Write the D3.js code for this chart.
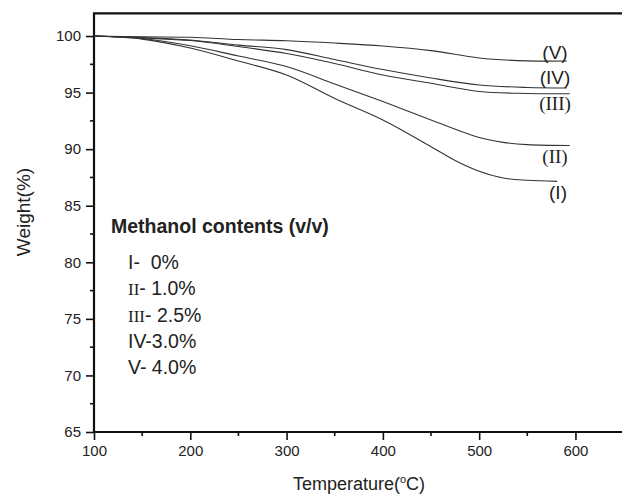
<!DOCTYPE html>
<html>
<head>
<meta charset="utf-8">
<script src="https://cdn.jsdelivr.net/npm/d3@7"></script>
<style>
  body { margin: 0; background: #fff; }
  text { font-family: "Liberation Sans", Arial, sans-serif; fill: #222; white-space: pre; }
</style>
</head>
<body>
<div id="chart"></div>
<script>
// temperatures (°C) and weight (%)
var tempI = [100, 150, 200, 250, 300, 350, 400, 450, 475, 500, 525, 550, 581];
var weightI = [100, 99.73, 98.94, 97.79, 96.55, 94.48, 92.58, 90.22, 89.0, 88.05, 87.45, 87.25, 87.15];

var tempII = [100, 150, 200, 250, 300, 350, 400, 450, 500, 525, 550, 594];
var weightII = [100, 99.78, 99.14, 98.23, 97.31, 95.76, 94.21, 92.58, 91.03, 90.6, 90.4, 90.33];

var tempIII = [100, 150, 200, 250, 300, 350, 400, 450, 500, 550, 594];
var weightIII = [100, 99.82, 99.6, 99.07, 98.45, 97.57, 96.55, 95.82, 95.1, 94.92, 94.9];

var tempIV = [100, 150, 200, 250, 300, 350, 400, 450, 500, 550, 591];
var weightIV = [100, 99.87, 99.65, 99.2, 98.8, 97.92, 97.04, 96.29, 95.67, 95.45, 95.41];

var tempV = [100, 150, 200, 250, 300, 350, 400, 450, 500, 550, 591];
var weightV = [100, 99.93, 99.89, 99.69, 99.58, 99.38, 99.12, 98.71, 98.06, 97.8, 97.79];

var curveNames = ["(I)", "(II)", "(III)", "(IV)", "(V)"];
var legendItems = [
    { num: "I", text: "-  0%" },
    { num: "II", text: "- 1.0%" },
    { num: "III", text: "- 2.5%" },
    { num: "IV", text: "-3.0%" },
    { num: "V", text: "- 4.0%" }
];
var xTicks = [100, 200, 300, 400, 500, 600];
var yTicks = [65, 70, 75, 80, 85, 90, 95, 100];

var series = [
    { name: curveNames[0], t: tempI, w: weightI },
    { name: curveNames[1], t: tempII, w: weightII },
    { name: curveNames[2], t: tempIII, w: weightIII },
    { name: curveNames[3], t: tempIV, w: weightIV },
    { name: curveNames[4], t: tempV, w: weightV }
];

var W = 622, H = 495;
var svg = d3.select("#chart").append("svg")
    .attr("width", W)
    .attr("height", H);

// scales
var x = d3.scaleLinear().domain([100, 650]).range([94, 623.6]);
var y = d3.scaleLinear().domain([65, 102]).range([432, 13.4]);

// minor ticks
var xMinor = d3.range(150, 650, 100);
var yMinor = d3.range(67.5, 100, 5);

// bottom axis
var gx = svg.append("g")
    .attr("transform", "translate(0," + y(65) + ")")
    .call(d3.axisBottom(x).tickValues(xTicks).tickSize(8).tickPadding(5).tickFormat(d3.format("d")));
gx.select(".domain").remove();
gx.selectAll(".tick line").attr("stroke", "#111").attr("stroke-width", 1.6);
gx.selectAll(".tick text").style("font-size", "15px").attr("fill", "#222");
gx.append("g").selectAll("line")
    .data(xMinor)
    .enter()
    .append("line")
    .attr("x1", function (d) { return x(d); })
    .attr("x2", function (d) { return x(d); })
    .attr("y1", 0)
    .attr("y2", 4)
    .attr("stroke", "#111")
    .attr("stroke-width", 1.6);

// left axis
var gy = svg.append("g")
    .attr("transform", "translate(" + x(100) + ",0)")
    .call(d3.axisLeft(y).tickValues(yTicks).tickSize(8).tickPadding(5));
gy.select(".domain").remove();
gy.selectAll(".tick line").attr("stroke", "#111").attr("stroke-width", 1.6);
gy.selectAll(".tick text").style("font-size", "15px").attr("fill", "#222");
gy.append("g").selectAll("line")
    .data(yMinor)
    .enter()
    .append("line")
    .attr("y1", function (d) { return y(d); })
    .attr("y2", function (d) { return y(d); })
    .attr("x1", 0)
    .attr("x2", -4)
    .attr("stroke", "#111")
    .attr("stroke-width", 1.6);

// frame (left, bottom, top)
svg.append("path")
    .attr("d", "M" + x(650) + "," + y(102) + "H" + x(100) + "V" + y(65) + "H" + x(650))
    .attr("fill", "none")
    .attr("stroke", "#111")
    .attr("stroke-width", 2.2);

// curves
var line = d3.line()
    .x(function (d) { return x(d[0]); })
    .y(function (d) { return y(d[1]); })
    .curve(d3.curveCatmullRom.alpha(0.5));

svg.selectAll(".curve")
    .data(series)
    .enter()
    .append("path")
    .attr("class", "curve")
    .attr("fill", "none")
    .attr("stroke", "#333")
    .attr("stroke-width", 1.1)
    .attr("d", function (d) { return line(d3.zip(d.t, d.w)); });

// curve labels (offset in px from last point of each curve)
var labelDy = [18, 17.5, 16, -4, -2];
var serifNames = { "(II)": true, "(III)": true };
svg.selectAll(".clabel")
    .data(series)
    .enter()
    .append("text")
    .attr("class", "clabel")
    .attr("text-anchor", "middle")
    .attr("x", function (d) { return d.name === "(I)" ? 558 : 555; })
    .attr("y", function (d, i) { return y(d.w[d.w.length - 1]) + labelDy[i]; })
    .style("font-size", "19px")
    .style("font-family", function (d) { return serifNames[d.name] ? "'Liberation Serif', 'Times New Roman', serif" : null; })
    .text(function (d) { return d.name; });

// legend
svg.append("text")
    .attr("x", 111)
    .attr("y", 233)
    .style("font-size", "19.5px")
    .style("font-weight", "bold")
    .text("Methanol contents (v/v)");

var leg = svg.selectAll(".leg")
    .data(legendItems)
    .enter()
    .append("text")
    .attr("class", "leg")
    .attr("x", 128)
    .attr("y", function (d, i) { return 269 + i * 26.3; })
    .style("font-size", "19.5px");
leg.append("tspan")
    .style("font-family", function (d) { return (d.num === "II" || d.num === "III") ? "'Liberation Serif', serif" : null; })
    .style("font-size", function (d) { return (d.num === "II" || d.num === "III") ? "17px" : null; })
    .text(function (d) { return d.num; });
leg.append("tspan")
    .text(function (d) { return d.text; });

// axis titles
svg.append("text")
    .attr("text-anchor", "middle")
    .attr("transform", "translate(30,212) rotate(-90)")
    .style("font-size", "19px")
    .text("Weight(%)");

var xt = svg.append("text")
    .attr("text-anchor", "middle")
    .attr("x", 359)
    .attr("y", 490)
    .style("font-size", "18px");
xt.append("tspan").text("Temperature(");
xt.append("tspan").attr("dy", -7).style("font-size", "11px").text("o");
xt.append("tspan").attr("dy", 7).text("C)");
</script>
</body>
</html>
